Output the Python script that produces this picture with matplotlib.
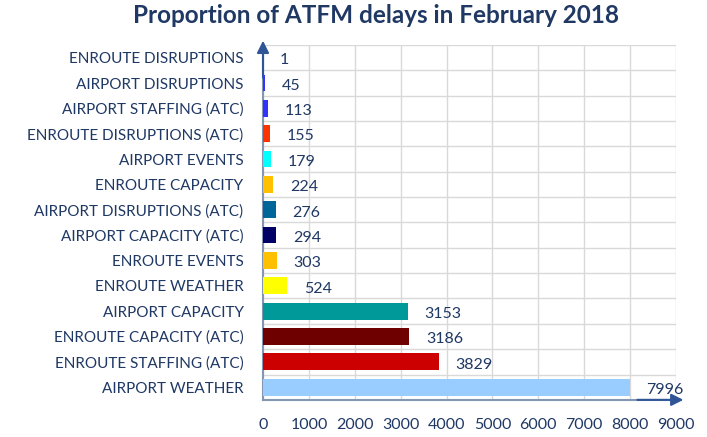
import matplotlib.pyplot as plt
import numpy as np

categories = ["ENROUTE DISRUPTIONS", "AIRPORT DISRUPTIONS", "AIRPORT STAFFING (ATC)",
              "ENROUTE DISRUPTIONS (ATC)", "AIRPORT EVENTS", "ENROUTE CAPACITY",
              "AIRPORT DISRUPTIONS (ATC)", "AIRPORT CAPACITY (ATC)", "ENROUTE EVENTS",
              "ENROUTE WEATHER", "AIRPORT CAPACITY", "ENROUTE CAPACITY (ATC)",
              "ENROUTE STAFFING (ATC)", "AIRPORT WEATHER"]
values = [1, 45, 113, 155, 179, 224, 276, 294, 303, 524, 3153, 3186, 3829, 7996]
colors = ["#009999", "#3333FF", "#3333FF", "#FF3300", "#00FFFF", "#FFC000",
          "#006699", "#000066", "#FFC000", "#FFFF00", "#009999", "#6F0000",
          "#CC0000", "#99CCFF"]

TextColor = "#1F3864"
plt.rcParams['font.family'] = ['Lato', 'DejaVu Sans']

fig = plt.figure(figsize=(7.07, 4.37), dpi=100)
ax = fig.add_axes([0.372, 0.085, 0.584, 0.812])

y = np.arange(len(categories))
ax.barh(y, values, height=0.66, color=colors, zorder=3)

for yi, v in zip(y, values):
    ax.annotate(str(v), (v, yi), xytext=(12, -2), textcoords='offset points',
                va='center', ha='left', fontsize=11.5, color=TextColor)

ax.set_ylim(13.5, -0.5)
ax.set_xlim(0, 9000)
ax.set_yticks(y)
ax.set_yticklabels(categories, fontsize=11, color=TextColor)
ax.set_xticks(np.arange(0, 9001, 1000))
ax.set_xticklabels([str(t) for t in range(0, 9001, 1000)], fontsize=11.5, color=TextColor)
ax.set_yticks(np.arange(-0.5, 13.6, 1), minor=True)
ax.tick_params(axis='both', which='both', length=0)
ax.tick_params(axis='x', pad=13)
ax.tick_params(axis='y', pad=14)

ax.grid(axis='x', which='major', color='#D9D9D9', linewidth=1, zorder=0)
ax.grid(axis='y', which='minor', color='#D9D9D9', linewidth=1, zorder=0)

for s in ['top', 'right']:
    ax.spines[s].set_visible(False)
ax.spines['left'].set_color('#8497B0')
ax.spines['bottom'].set_color('#8497B0')
ax.spines['left'].set_linewidth(1.5)
ax.spines['bottom'].set_linewidth(1.5)

# axis arrows
ax.annotate('', xy=(0, 1.02), xycoords='axes fraction', xytext=(0, 0.9),
            arrowprops=dict(arrowstyle='-|>', color='#2F5597', lw=1.5, mutation_scale=18))
ax.annotate('', xy=(1.025, 0), xycoords='axes fraction', xytext=(0.9, 0),
            arrowprops=dict(arrowstyle='-|>', color='#2F5597', lw=1.5, mutation_scale=18))

fig.suptitle("Proportion of ATFM delays in February 2018", x=0.532, y=0.99,
             fontsize=17.5, fontweight='bold', color=TextColor)

fig.savefig("out.png", dpi=100)
